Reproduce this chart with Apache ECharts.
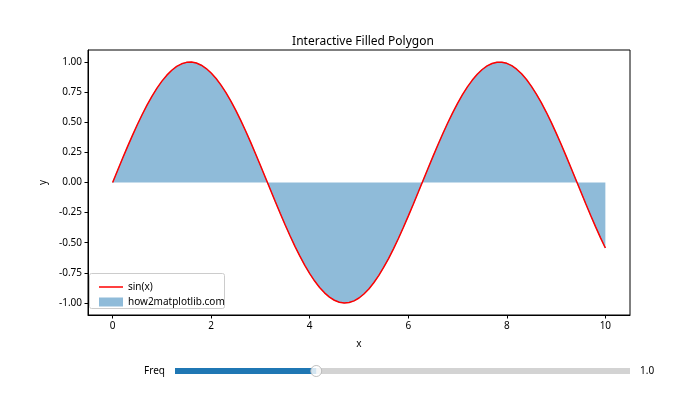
<!DOCTYPE html>
<html><head><meta charset="utf-8">
<script src="https://cdn.jsdelivr.net/npm/echarts@6/dist/echarts.min.js"></script>
<style>html,body{margin:0;padding:0;background:#fff}#c{width:700px;height:420px}</style>
</head><body><div id="c"></div>
<script>
const xValues = [0,0.1,0.2,0.3,0.4,0.5,0.6,0.7,0.8,0.9,1.0,1.1,1.2,1.3,1.4,1.5,1.6,1.7,1.8,1.9,2.0,2.1,2.2,2.3,2.4,2.5,2.6,2.7,2.8,2.9,3.0,3.1,3.2,3.3,3.4,3.5,3.6,3.7,3.8,3.9,4.0,4.1,4.2,4.3,4.4,4.5,4.6,4.7,4.8,4.9,5.0,5.1,5.2,5.3,5.4,5.5,5.6,5.7,5.8,5.9,6.0,6.1,6.2,6.3,6.4,6.5,6.6,6.7,6.8,6.9,7.0,7.1,7.2,7.3,7.4,7.5,7.6,7.7,7.8,7.9,8.0,8.1,8.2,8.3,8.4,8.5,8.6,8.7,8.8,8.9,9.0,9.1,9.2,9.3,9.4,9.5,9.6,9.7,9.8,9.9,10.0];
const yValues = [0,0.0998,0.1987,0.2955,0.3894,0.4794,0.5646,0.6442,0.7174,0.7833,0.8415,0.8912,0.9320,0.9636,0.9854,0.9975,0.9996,0.9917,0.9738,0.9463,0.9093,0.8632,0.8085,0.7457,0.6755,0.5985,0.5155,0.4274,0.3350,0.2392,0.1411,0.0416,-0.0584,-0.1577,-0.2555,-0.3508,-0.4425,-0.5298,-0.6119,-0.6878,-0.7568,-0.8183,-0.8716,-0.9162,-0.9516,-0.9775,-0.9937,-0.9999,-0.9962,-0.9825,-0.9589,-0.9258,-0.8835,-0.8323,-0.7728,-0.7055,-0.6313,-0.5507,-0.4646,-0.3739,-0.2794,-0.1822,-0.0831,0.0168,0.1165,0.2151,0.3115,0.4048,0.4941,0.5784,0.6570,0.7290,0.7937,0.8504,0.8987,0.9380,0.9679,0.9882,0.9985,0.9989,0.9894,0.9699,0.9407,0.9022,0.8546,0.7985,0.7344,0.6630,0.5849,0.5010,0.4121,0.3191,0.2229,0.1245,0.0248,-0.0752,-0.1743,-0.2718,-0.3665,-0.4575,-0.5440];
const xTicks = [0,2,4,6,8,10];
const yTicks = [-1.00,-0.75,-0.50,-0.25,0.00,0.25,0.50,0.75,1.00];
const freqValue = [1.0];
const freqRange = [0.1, 3.0];
const lineName = 'sin(x)';
const fillName = 'how2matplotlib.com';

const pts = xValues.map((x,i)=>[x,yValues[i]]);
const FONT = 'Noto Sans';
const chart = echarts.init(document.getElementById('c'));
chart.setOption({
  animation:false,
  textStyle:{fontFamily:FONT},
  title:{text:'Interactive Filled Polygon',left:358,textAlign:'center',top:31,
    textStyle:{fontFamily:FONT,fontSize:12,fontWeight:'normal',color:'#000'}},
  graphic:[{type:'rect',left:89,top:273,shape:{width:135,height:35,r:2},
    style:{fill:'rgba(255,255,255,0.8)',stroke:'#cccccc',lineWidth:1},z:100}],
  legend:[
    {data:[lineName],orient:'vertical',left:94,top:277,itemWidth:24,itemHeight:1.5,icon:'rect',itemGap:4,
      textStyle:{fontFamily:FONT,fontSize:10,color:'#000'},z:101},
    {data:[fillName],orient:'vertical',left:94,top:292,itemWidth:24,itemHeight:9,icon:'rect',
      textStyle:{fontFamily:FONT,fontSize:10,color:'#000'},z:101}
  ],
  grid:[
    {left:88,right:70,top:50,bottom:105,show:true,borderColor:'#000',borderWidth:1,containLabel:false},
    {left:175,right:70,top:366,height:10,containLabel:false}
  ],
  xAxis:[
    {type:'value',gridIndex:0,min:-0.5,max:10.5,name:'x',nameLocation:'middle',nameGap:24,
      nameTextStyle:{fontSize:10,color:'#000'},
      axisLine:{show:true,onZero:false,lineStyle:{color:'#000'}},
      axisTick:{show:true,length:3.5,customValues:xTicks,lineStyle:{color:'#000'}},
      axisLabel:{customValues:xTicks,fontSize:10,color:'#000',margin:6},
      splitLine:{show:false}},
    {type:'value',gridIndex:1,min:freqRange[0],max:freqRange[1],show:false}
  ],
  yAxis:[
    {type:'value',gridIndex:0,min:-1.1,max:1.1,name:'y',nameLocation:'middle',nameGap:38,
      nameTextStyle:{fontSize:10,color:'#000'},
      axisLine:{show:true,onZero:false,lineStyle:{color:'#000'}},
      axisTick:{show:true,length:3.5,customValues:yTicks,lineStyle:{color:'#000'}},
      axisLabel:{customValues:yTicks,fontSize:10,color:'#000',margin:6,formatter:v=>v.toFixed(2)},
      splitLine:{show:false}},
    {type:'category',gridIndex:1,data:['Freq'],axisLine:{show:false},axisTick:{show:false},
      axisLabel:{fontSize:10,color:'#000',margin:10}},
    {type:'category',gridIndex:1,position:'right',data:[freqValue[0].toFixed(1)],axisLine:{show:false},axisTick:{show:false},
      axisLabel:{fontSize:10,color:'#000',margin:10}}
  ],
  series:[
    {name:fillName,type:'line',xAxisIndex:0,yAxisIndex:0,data:pts,showSymbol:false,z:1,
      lineStyle:{color:'rgba(31,119,180,0.5)',width:1},itemStyle:{color:'rgba(31,119,180,0.5)'},
      areaStyle:{color:'rgba(31,119,180,0.5)',origin:0,opacity:1}},
    {name:lineName,type:'line',xAxisIndex:0,yAxisIndex:0,data:pts,showSymbol:false,z:3,
      lineStyle:{color:'#ff0000',width:1.5},itemStyle:{color:'#ff0000'}},
    {type:'bar',xAxisIndex:1,yAxisIndex:1,data:freqValue,barWidth:6,clip:true,
      itemStyle:{color:'#1f77b4'},showBackground:true,backgroundStyle:{color:'#d3d3d3'},silent:true},
    {type:'scatter',xAxisIndex:1,yAxisIndex:1,data:[[freqValue[0],'Freq']],symbolSize:11,z:5,
      itemStyle:{color:'#fff',borderColor:'#b0b0b0',borderWidth:1},silent:true}
  ]
});
</script></body></html>
